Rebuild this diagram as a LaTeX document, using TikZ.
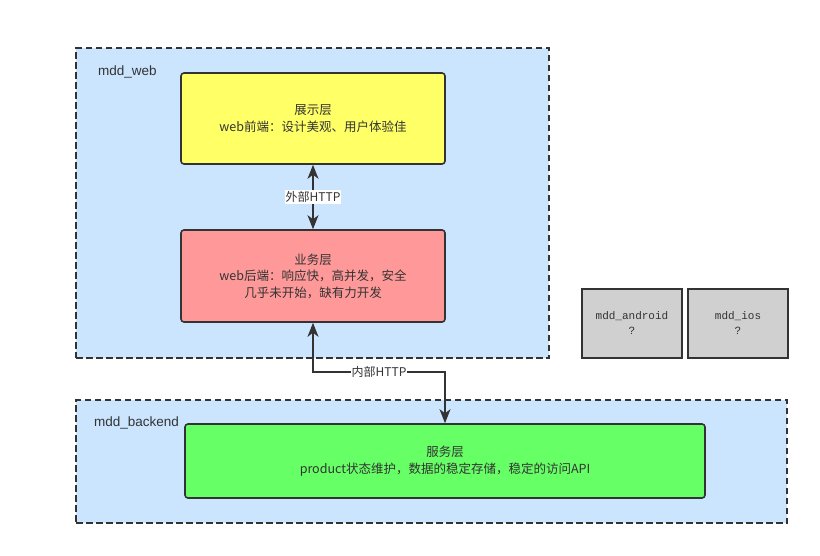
\documentclass[tikz,border=0pt]{standalone}
\usepackage{fontspec}
\setmainfont{Liberation Sans}
\setmonofont{Liberation Mono}
\newfontfamily\cjk{Noto Sans CJK SC}
\usepackage{tikz}
\usetikzlibrary{arrows,arrows.meta,shapes,positioning,backgrounds}
\usepackage{xcolor}
\definecolor{mddblue}{RGB}{204,229,255}
\definecolor{mddyellow}{RGB}{255,255,102}
\definecolor{mddred}{RGB}{255,153,153}
\definecolor{mddgreen}{RGB}{102,255,102}
\definecolor{mddgray}{RGB}{208,208,208}
\definecolor{mddline}{RGB}{51,51,51}
\tikzstyle{container} = [draw=mddline, line width=1.6pt, dash pattern=on 6.5pt off 3.5pt, fill=mddblue, inner sep=0pt]
\tikzstyle{layer} = [draw=mddline, line width=1.6pt, rounded corners=3pt, align=center, text=mddline, font=\cjk\fontsize{12.5}{16.5}\selectfont, inner sep=0pt]
\tikzstyle{client} = [draw=mddline, line width=1.6pt, fill=mddgray, align=center, text=mddline, font=\ttfamily\fontsize{11}{15}\selectfont, minimum width=100pt, minimum height=69pt, inner sep=0pt]
\tikzstyle{tag} = [anchor=west, text=mddline, font=\fontsize{13.5}{16}\selectfont, inner sep=0pt]
\tikzstyle{link} = [line width=1.6pt, color=mddline, >={Stealth[length=14pt,width=11pt,inset=4pt]}, <->]
\tikzstyle{linklabel} = [fill=white, text=mddline, font=\cjk\fontsize{12}{14}\selectfont, inner sep=1pt]

\begin{document}
\begin{tikzpicture}[x=1pt,y=-1pt]
\useasboundingbox (0,0) rectangle (820,555);

% Containers
\node[container, minimum width=473pt, minimum height=310pt] (web) at (312.5,203) {};
\node[tag] (webtag) at (98,72) {mdd\_web};
\node[container, minimum width=711pt, minimum height=123pt] (backend) at (431.5,461.5) {};
\node[tag] (backendtag) at (94,423) {mdd\_backend};

% Layers
\node[layer, fill=mddyellow, minimum width=264pt, minimum height=91pt] (pres) at (313,118.5) {展示层\\web前端：设计美观、用户体验佳};
\node[layer, fill=mddred, minimum width=264pt, minimum height=92pt] (biz) at (313,276) {业务层\\web后端：响应快，高并发，安全\\几乎未开始，缺有力开发};
\node[layer, fill=mddgreen, minimum width=520pt, minimum height=74pt] (svc) at (445,461) {服务层\\product状态维护，数据的稳定存储，稳定的访问API};

% Clients
\node[client] (android) at (632,323.5) {mdd\_android\\?};
\node[client] (ios) at (738,323.5) {mdd\_ios\\?};

% Links
\draw[link] (pres) -- node[linklabel] {外部HTTP} (biz);
\coordinate (bend) at (0,372);
\draw[link] (biz.south) -- (biz.south |- bend) -- node[linklabel] {内部HTTP} (svc.north |- bend) -- (svc.north);
\end{tikzpicture}
\end{document}
